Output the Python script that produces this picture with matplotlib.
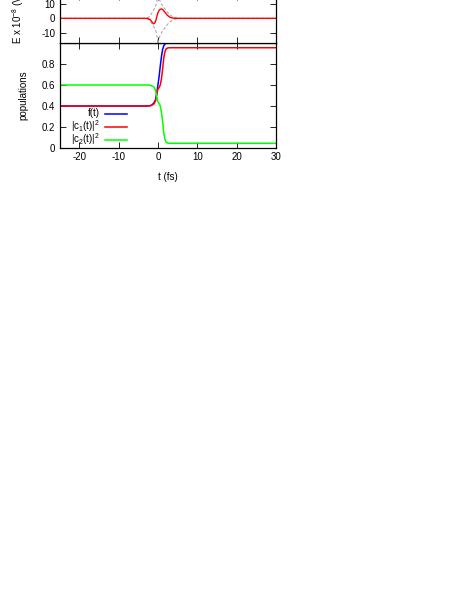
import matplotlib
matplotlib.use("Agg")
import matplotlib.pyplot as plt
from matplotlib.lines import Line2D

plt.rcParams['font.family'] = ['Liberation Sans', 'DejaVu Sans']
plt.rcParams['mathtext.default'] = 'regular'
plt.rcParams['font.size'] = 7

# ---- data ----
t_pop = [-25, -3, -2, -1.5, -1, -0.6, -0.3, 0, 0.3, 0.6, 0.9, 1.2, 1.5, 1.8, 2.1, 2.5, 3, 4, 30]
f_t = [0.4, 0.4, 0.402, 0.41, 0.43, 0.46, 0.52, 0.6, 0.68, 0.78, 0.87, 0.94, 0.975, 0.99, 0.997, 1.0,
       1.0, 1.0, 1.0]
c1_sq = [0.4, 0.4, 0.402, 0.41, 0.42, 0.45, 0.51, 0.56, 0.575, 0.6, 0.66, 0.75, 0.86, 0.92, 0.945,
         0.953, 0.955, 0.955, 0.955]
c2_sq = [0.6, 0.6, 0.598, 0.59, 0.58, 0.55, 0.49, 0.44, 0.425, 0.4, 0.34, 0.25, 0.14, 0.08, 0.055,
         0.047, 0.045, 0.045, 0.045]

t_E = [-25, -3, -2.5, -2, -1.5, -1.1, -0.8, -0.5, -0.25, 0, 0.3, 0.6, 1.0, 1.4, 1.8, 2.3, 2.8,
       3.3, 4, 5, 30]
E_field = [0, 0, -0.2, -0.8, -2.5, -3.8, -3.2, -1.2, 1.5, 3.8, 5.5, 6.3, 6.5, 5.5, 4.2, 2.4, 1.2,
           0.5, 0.1, 0, 0]

t_env = [-25, -4, -3, -2.5, -2, -1.5, -1, -0.5, -0.2, 0, 0.3, 0.6, 1, 1.5, 2, 2.5, 3, 3.5, 4, 5,
         6, 30]
env = [0, 0, 0.2, 0.6, 1.6, 3.8, 6.0, 9.0, 12.6, 17.5, 14.0, 11.5, 9.5, 7.5, 5.6, 4.0, 2.6, 1.6,
       0.8, 0.2, 0, 0]
env_neg = [-v for v in env]

xticks = [-20, -10, 0, 10, 20, 30]
pop_yticks = [0, 0.2, 0.4, 0.6, 0.8]
E_yticks = [-10, 0, 10]

W, H = 463, 599
fig = plt.figure(figsize=(W / 100, H / 100), dpi=100)

left = 59.5 / W
width = 216.5 / W
ax = fig.add_axes([left, (H - 148) / H, width, 105 / H])
axE = fig.add_axes([left, (H - 43) / H, width, 49.3 / H])

for a in (ax, axE):
    a.set_xlim(-25, 30)
    a.set_xticks(xticks)
    a.tick_params(direction='in', length=4, width=0.6, top=True, right=True, pad=3)
    for s in a.spines.values():
        s.set_linewidth(0.9)

# bottom panel
ax.set_ylim(0, 1)
ax.set_yticks(pop_yticks)
ax.set_yticklabels(['0', '0.2', '0.4', '0.6', '0.8'])
ax.set_xticklabels([str(v) for v in xticks])
lw = 1.1
ax.plot(t_pop, f_t, color='#0000ff', lw=lw)
ax.plot(t_pop, c1_sq, color='#ff0000', lw=lw)
ax.plot(t_pop, c2_sq, color='#00ff00', lw=lw)
ax.set_ylabel('populations')
ax.yaxis.set_label_coords(-0.143, 0.5)
ax.set_xlabel('t (fs)')
ax.xaxis.set_label_coords(0.5, -0.225)

# manual gnuplot-style key
labels = ['f(t)', '|c$_1$(t)|$^2$', '|c$_2$(t)|$^2$']
colors = ['#0000ff', '#ff0000', '#00ff00']
ys = [(148 - 113.5) / 105, (148 - 126.5) / 105, (148 - 139.5) / 105]
for lab, col, yy in zip(labels, colors, ys):
    ax.text((100 - 59.5) / 216.5, yy, lab, transform=ax.transAxes, ha='right', va='center')
    ax.add_line(Line2D([(105 - 59.5) / 216.5, (126.5 - 59.5) / 216.5], [yy, yy],
                       transform=ax.transAxes, color=col, lw=lw))

# top panel
axE.set_ylim(-17, 17)
axE.set_yticks(E_yticks)
axE.set_yticklabels(['-10', '0', '10'])
axE.set_xticklabels([])
axE.plot(t_env, env, color='#a0a0a0', lw=0.7, ls=(0, (3, 2)))
axE.plot(t_env, env_neg, color='#a0a0a0', lw=0.7, ls=(0, (3, 2)))
axE.plot(t_E, E_field, color='#ff0000', lw=1.0)
axE.text((18 - 59.5) / 216.5, -0.02, 'E x 10$^{-8}$ (V/m)', transform=axE.transAxes,
         rotation=90, ha='center', va='bottom')

fig.savefig('out.png', dpi=100)
